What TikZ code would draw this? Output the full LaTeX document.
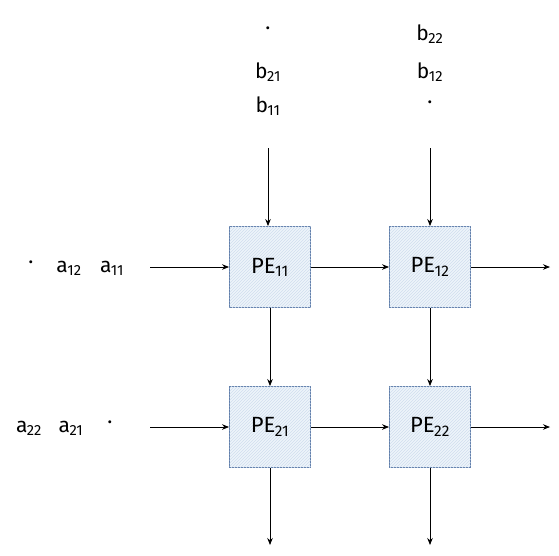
\documentclass[tikz,border=0pt]{standalone}
\usepackage{fontspec}
\setmainfont{Fira Sans}
\usetikzlibrary{arrows.meta,patterns}
\definecolor{pefill}{RGB}{238,244,250}
\definecolor{pehatch}{RGB}{208,222,238}
\definecolor{peborder}{RGB}{95,125,170}
\tikzset{
  pe/.style={draw=peborder, line width=0.9pt, fill=pefill,
    postaction={pattern=north east lines, pattern color=pehatch},
    minimum width=81pt, minimum height=81pt, inner sep=0pt,
    font=\fontsize{22}{24}\selectfont},
  lbl/.style={inner sep=0pt, font=\fontsize{21}{23}\selectfont},
  flow/.style={draw=black, line width=0.8pt, -{Stealth[length=7pt,width=5.5pt]}}
}
\newcommand{\sbs}[1]{\textsubscript{\kern-0.5pt#1}}
\begin{document}
\begin{tikzpicture}[x=1pt,y=-1pt]
\useasboundingbox (0,0) rectangle (559,555);
% PE nodes
\node[pe] (p11) at (270,267) {PE\sbs{11}};
\node[pe] (p12) at (430,267) {PE\sbs{12}};
\node[pe] (p21) at (270,427) {PE\sbs{21}};
\node[pe] (p22) at (430,427) {PE\sbs{22}};
% input labels top
\node[lbl] (t1a) at (268,28) {.};
\node[lbl] (t1b) at (268,72) {b\sbs{21}};
\node[lbl] (t1c) at (268,106) {b\sbs{11}};
\node[lbl] (t2a) at (430,34) {b\sbs{22}};
\node[lbl] (t2b) at (430,72) {b\sbs{12}};
\node[lbl] (t2c) at (430,102) {.};
% input labels left
\node[lbl] (l1a) at (31,262) {.};
\node[lbl] (l1b) at (69,268) {a\sbs{12}};
\node[lbl] (l1c) at (112,268) {a\sbs{11}};
\node[lbl] (l2a) at (29,428) {a\sbs{22}};
\node[lbl] (l2b) at (71,428) {a\sbs{21}};
\node[lbl] (l2c) at (110,422) {.};
% free ends
\coordinate (top1) at (268,148);
\coordinate (top2) at (430,148);
\coordinate (left1) at (150,267);
\coordinate (left2) at (150,427);
\coordinate (right1) at (550,267);
\coordinate (right2) at (550,427);
\coordinate (bot1) at (270,545);
\coordinate (bot2) at (430,545);
% connectors
\draw[flow] (top1) -- (top1 |- p11.north);
\draw[flow] (top2) -- (p12.north);
\draw[flow] (left1) -- (p11.west);
\draw[flow] (left2) -- (p21.west);
\draw[flow] (p11.east) -- (p12.west);
\draw[flow] (p21.east) -- (p22.west);
\draw[flow] (p12.east) -- (right1);
\draw[flow] (p22.east) -- (right2);
\draw[flow] (p11.south) -- (p21.north);
\draw[flow] (p12.south) -- (p22.north);
\draw[flow] (p21.south) -- (bot1);
\draw[flow] (p22.south) -- (bot2);
\end{tikzpicture}
\end{document}
